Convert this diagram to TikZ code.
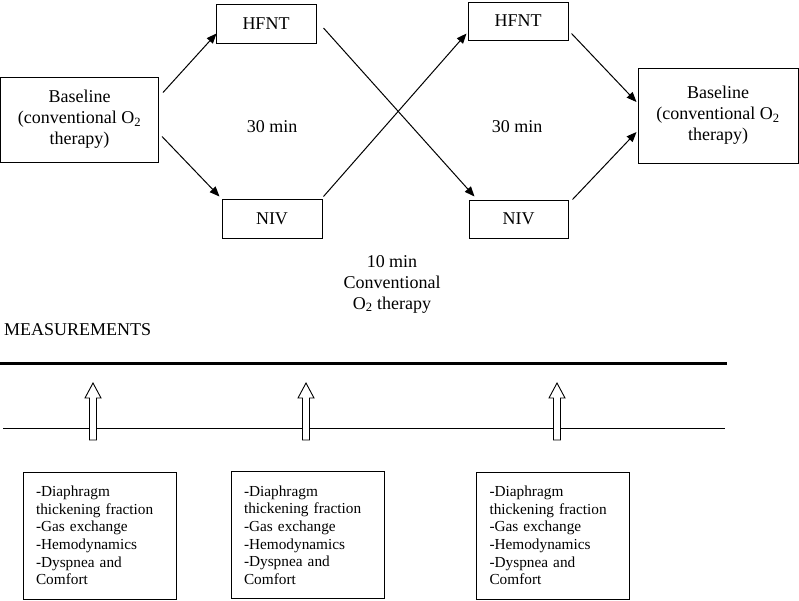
\documentclass[tikz,border=0pt]{standalone}
\usepackage{fontspec}
\setmainfont{Liberation Serif}
\usetikzlibrary{arrows.meta,calc}
\begin{document}
\begin{tikzpicture}[x=1pt,y=-1pt,
  box/.style={draw, line width=1pt, inner sep=0pt, align=center, font=\fontsize{18}{21}\selectfont},
  conn/.style={-{Triangle[length=10pt,width=8pt]}, line width=1pt},
  lbl/.style={font=\fontsize{18}{21}\selectfont, align=center, inner sep=0pt},
  mbox/.style={draw, line width=1pt, minimum width=153pt, minimum height=127pt, text width=127pt, inner xsep=13pt, inner ysep=0pt, align=left, font=\fontsize{15.3}{17.6}\selectfont},
  blockarrow/.style={draw, fill=white, line width=0.9pt}]
\useasboundingbox (0,0) rectangle (799,600);

% top flow boxes
\node[box, minimum width=158pt, minimum height=85pt] (base1) at (79.5,119.5) {Baseline\\(conventional O\textsubscript{2}\\therapy)};
\node[box, minimum width=100pt, minimum height=39pt] (hfnt1) at (266,23.5) {HFNT};
\node[box, minimum width=100pt, minimum height=39pt] (niv1) at (272,218.5) {NIV};
\node[box, minimum width=100pt, minimum height=38pt] (hfnt2) at (518,21) {HFNT};
\node[box, minimum width=99pt, minimum height=38pt] (niv2) at (518.5,219) {NIV};
\node[box, minimum width=160pt, minimum height=95pt] (base2) at (718,115.5) {Baseline\\(conventional O\textsubscript{2}\\therapy)};

% connectors
\draw[conn] ([shift={(4,16)}]base1.north east) -- ([shift={(1,-10)}]hfnt1.south west);
\draw[conn] ([shift={(3,-26)}]base1.south east) -- ([shift={(-2,-2)}]niv1.north west);
\draw[conn] ([shift={(7,4.5)}]hfnt1.east) -- ([shift={(6,-3)}]niv2.north west);
\draw[conn] ([shift={(1,-2)}]niv1.north east) -- ([shift={(-1,-7)}]hfnt2.south west);
\draw[conn] ([shift={(3,-7)}]hfnt2.south east) -- ([shift={(-1,-13.5)}]base2.west);
\draw[conn] ([shift={(4,0)}]niv2.north east) -- ([shift={(-1,16.5)}]base2.west);

% labels
\node[lbl] (t1) at (272,127) {30 min};
\node[lbl] (t2) at (517,127) {30 min};
\node[lbl] (t3) at (392,284) {10 min\\Conventional\\O\textsubscript{2} therapy};
\node[lbl, anchor=west] (meas) at (4,330) {MEASUREMENTS};

% timeline
\coordinate (thickL) at (0,363);
\coordinate (thickR) at (727,363);
\coordinate (thinL) at (3,428);
\coordinate (thinR) at (725,428);
\draw[line width=3pt] (thickL) -- (thickR);
\draw[line width=1pt] (thinL) -- (thinR);

% hollow block arrows
\foreach \c in {93,306,557} {
  \draw[blockarrow] (\c-3.5,440) -- (\c-3.5,398) -- (\c-8,398) -- (\c,383) -- (\c+8,398) -- (\c+3.5,398) -- (\c+3.5,440) -- cycle;
}

% measurement boxes
\node[mbox] (m1) at (99.5,535.5) {-Diaphragm\\thickening fraction\\-Gas exchange\\-Hemodynamics\\-Dyspnea and\\Comfort};
\node[mbox] (m2) at (307.5,535) {-Diaphragm\\thickening fraction\\-Gas exchange\\-Hemodynamics\\-Dyspnea and\\Comfort};
\node[mbox] (m3) at (553,535.5) {-Diaphragm\\thickening fraction\\-Gas exchange\\-Hemodynamics\\-Dyspnea and\\Comfort};
\end{tikzpicture}
\end{document}
